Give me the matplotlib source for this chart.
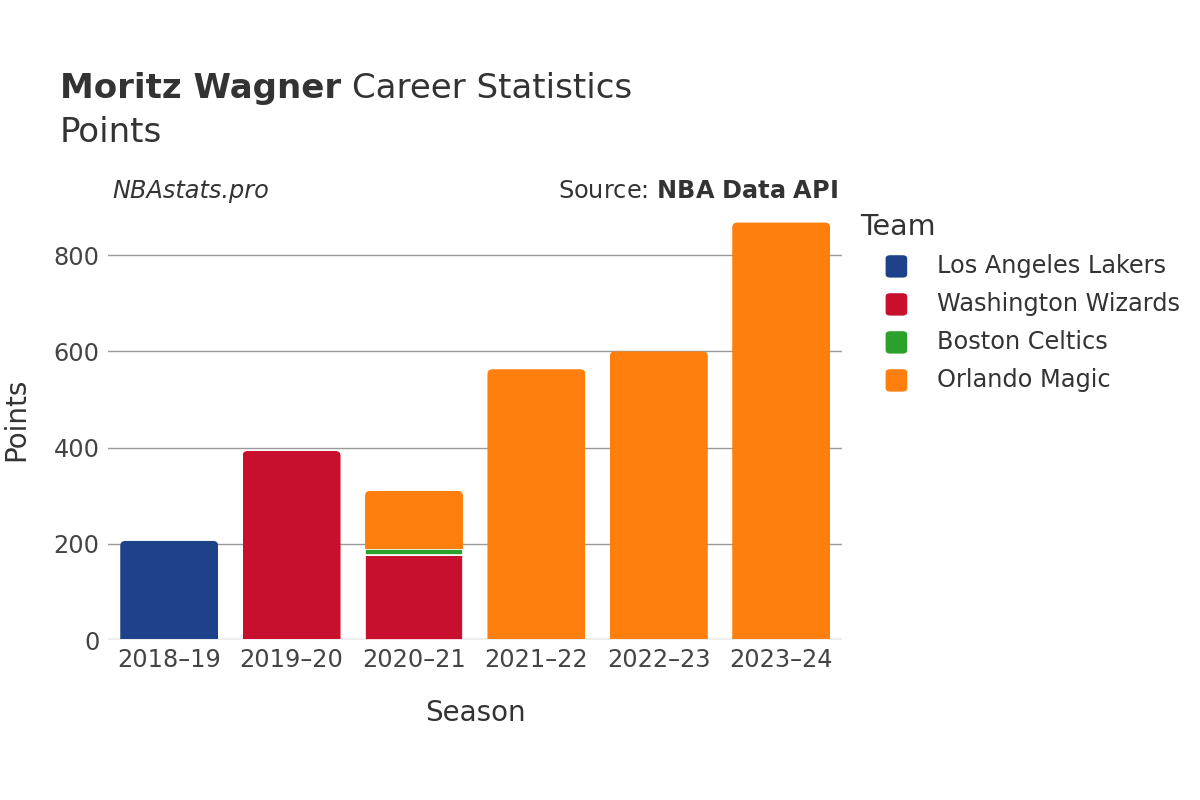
import matplotlib.pyplot as plt
from matplotlib.patches import FancyBboxPatch, Rectangle
import numpy as np

seasons = ["2018–19", "2019–20", "2020–21", "2021–22", "2022–23", "2023–24"]
teams = ["Los Angeles Lakers", "Washington Wizards", "Boston Celtics", "Orlando Magic"]
team_colors = ["#1d428a", "#c8102e", "#2ca02c", "#ff7f0e"]
points = {
    "Los Angeles Lakers": [206, 0, 0, 0, 0, 0],
    "Washington Wizards": [0, 393, 177, 0, 0, 0],
    "Boston Celtics": [0, 0, 12, 0, 0, 0],
    "Orlando Magic": [0, 0, 121, 563, 600, 868],
}

fig = plt.figure(figsize=(12, 8), dpi=100)
ax = fig.add_axes([0.09, 0.2, 0.612, 0.541])
text_col = "#333333"

x = np.arange(len(seasons))
totals = np.sum([points[t] for t in teams], axis=0)
bottom = np.zeros(len(seasons))
width = 0.8
# rounding of top corners, x-units; aspect converts to y-units
ylim_top = 900
px_x = ax.get_position().width * 1200 / 6
px_y = ax.get_position().height * 800 / ylim_top
aspect = px_x / px_y
r = 5 / px_x
for team, color in zip(teams, team_colors):
    vals = np.array(points[team], dtype=float)
    for i, v in enumerate(vals):
        if v <= 0:
            continue
        b = bottom[i]
        if np.isclose(b + v, totals[i]):
            extra = r * aspect * 2
            p = FancyBboxPatch((x[i] - width / 2, b - extra), width, v + extra,
                               boxstyle=f"round,pad=0,rounding_size={r}",
                               mutation_aspect=aspect, facecolor=color,
                               edgecolor="none", zorder=3)
            ax.add_patch(p)
            clip = Rectangle((x[i] - width / 2, b + 1.2), width, v + 50,
                             transform=ax.transData)
            p.set_clip_path(clip)
        else:
            ax.bar(x[i], v, width=width, bottom=b, color=color, edgecolor="white",
                   linewidth=1.2, zorder=3)
    bottom += vals

ax.set_xlim(-0.5, 5.5)
ax.set_ylim(0, ylim_top)
ax.set_yticks([0, 200, 400, 600, 800])
ax.set_xticks(x)
ax.set_xticklabels(seasons)
ax.grid(axis="y", color="#999999", linewidth=1, zorder=0)
ax.axhline(0, color="#eeeeee", linewidth=3, zorder=2)
for s in ax.spines.values():
    s.set_visible(False)
ax.tick_params(length=0, labelsize=17.3, labelcolor="#444444", pad=6)

ax.set_xlabel("Season", fontsize=20, color=text_col, labelpad=19)
ax.set_ylabel("Points", fontsize=20, color=text_col)
ax.yaxis.set_label_coords(-0.106, 0.51)

t1 = fig.text(0.05, 0.889, "Moritz Wagner", fontsize=24.5, fontweight="bold", color=text_col, va="center")
fig.canvas.draw()
bb = t1.get_window_extent()
fig.text(bb.x1 / 1200 + 0.009, 0.889, "Career Statistics", fontsize=24.5, color=text_col, va="center")
fig.text(0.05, 0.835, "Points", fontsize=24.5, color=text_col, va="center")

fig.text(0.094, 0.761, "NBAstats.pro", fontsize=17.3, style="italic", color=text_col, va="center")
fig.text(0.698, 0.761, "Source: $\\bf{NBA\\ Data\\ API}$", fontsize=17.3, color=text_col,
         va="center", ha="right")

# legend
fig.text(0.717, 0.716, "Team", fontsize=20.5, color=text_col, va="center")
for i, (team, color) in enumerate(zip(teams, team_colors)):
    yy = 0.667 - i * 0.0475
    fig.patches.append(FancyBboxPatch((0.738, yy - 0.014), 0.018, 0.028,
                                      boxstyle="round,pad=0,rounding_size=0.004",
                                      transform=fig.transFigure, facecolor=color,
                                      edgecolor="none"))
    fig.text(0.781, yy, team, fontsize=17.3, color=text_col, va="center")

fig.savefig("out.png", dpi=100)
